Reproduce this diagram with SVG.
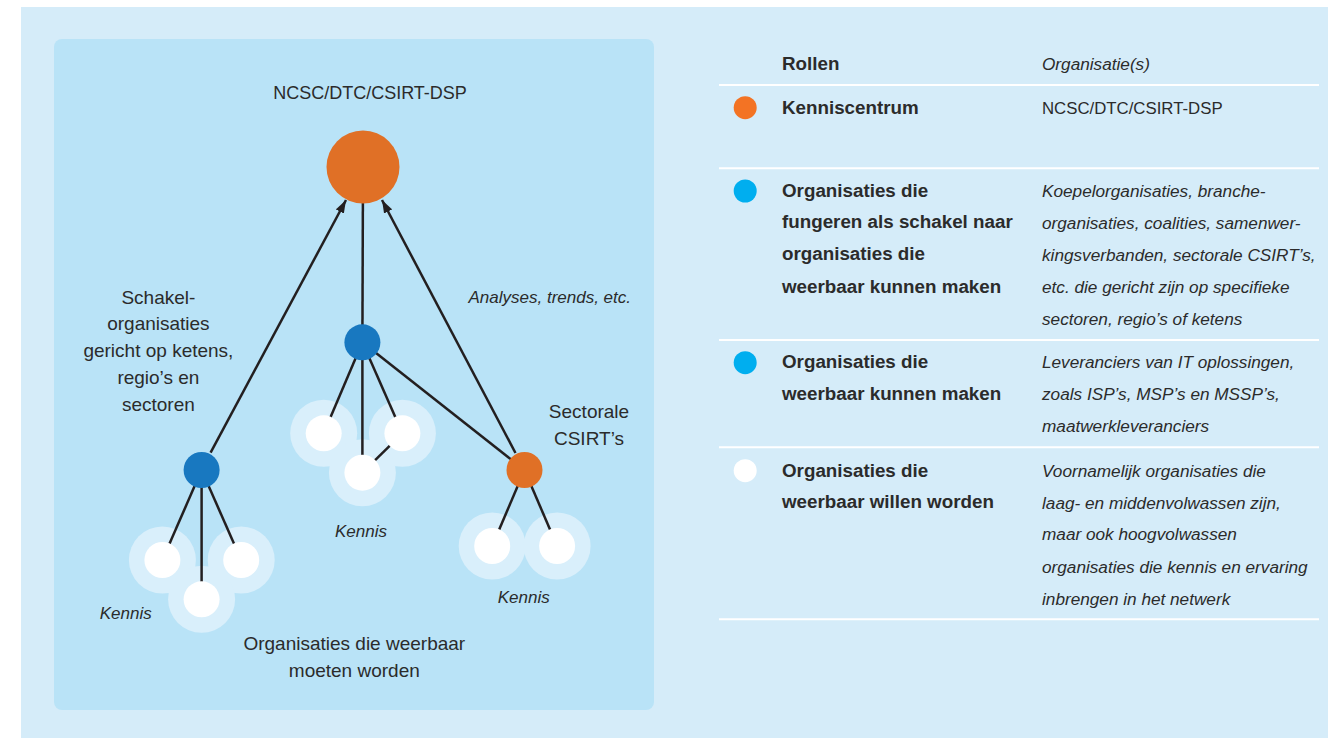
<svg xmlns="http://www.w3.org/2000/svg" width="1328" height="738" viewBox="0 0 1328 738">
<style>
text{font-family:"Liberation Sans",Arial,sans-serif;fill:#2b2b2b}
.lbl{font-size:19px;text-anchor:middle}
.it{font-style:italic;font-size:17px}
.b{font-weight:bold;font-size:18.8px}
.t{font-style:italic;font-size:17.2px}
.halo{fill:#d9effb}
.wn{fill:#ffffff}
.bn{fill:#1878c0}
.on{fill:#e07026}
.sep{stroke:#ffffff;stroke-width:2}
#connectors line{stroke:#231f20;stroke-width:2.5}
</style>
<defs>
<marker id="arr" markerUnits="userSpaceOnUse" markerWidth="14" markerHeight="10" refX="13" refY="5" orient="auto">
<path d="M0,0.5 L13,5 L0,9.5 Z" fill="#231f20"/>
</marker>
</defs>
<rect x="0" y="0" width="1328" height="738" fill="#ffffff"/>
<rect x="21" y="7" width="1307" height="731" fill="#d5ecf9"/>
<rect x="54" y="39" width="600" height="671" rx="8" fill="#b9e3f7"/>
<g id="halos">
<circle class="halo" cx="162.4" cy="560" r="33.5"/>
<circle class="halo" cx="241.2" cy="560" r="33.5"/>
<circle class="halo" cx="201.6" cy="599.3" r="33.5"/>
<circle class="halo" cx="323.7" cy="433.3" r="33.5"/>
<circle class="halo" cx="402.4" cy="433.3" r="33.5"/>
<circle class="halo" cx="362.4" cy="472.7" r="33.5"/>
<circle class="halo" cx="492.2" cy="546" r="33.5"/>
<circle class="halo" cx="557.1" cy="546" r="33.5"/>
</g>
<g id="connectors">
<line x1="363" y1="167" x2="362.4" y2="342.3"/>
<line x1="210.6" y1="452.7" x2="346" y2="200" marker-end="url(#arr)"/>
<line x1="515.5" y1="453" x2="382" y2="200" marker-end="url(#arr)"/>
<line x1="362.4" y1="342.3" x2="524.5" y2="470"/>
<line x1="362.4" y1="342.3" x2="323.7" y2="433.3"/>
<line x1="362.4" y1="342.3" x2="362.4" y2="472.7"/>
<line x1="362.4" y1="342.3" x2="402.4" y2="433.3"/>
<line x1="402.4" y1="433.3" x2="362.4" y2="472.7"/>
<line x1="201.6" y1="470" x2="162.4" y2="560"/>
<line x1="201.6" y1="470" x2="201.6" y2="599.3"/>
<line x1="201.6" y1="470" x2="241.2" y2="560"/>
<line x1="524.5" y1="470" x2="492.2" y2="546"/>
<line x1="524.5" y1="470" x2="557.1" y2="546"/>
</g>
<g id="node-kenniscentrum"><circle class="on" cx="363" cy="167" r="36.5"/><text class="lbl" x="370" y="99" style="font-size:18px">NCSC/DTC/CSIRT-DSP</text></g>
<g id="node-mid"><circle class="bn" cx="362.4" cy="342.3" r="18"/><text class="it" x="468.5" y="303.3">Analyses, trends, etc.</text></g>
<g id="node-left"><circle class="bn" cx="201.6" cy="470" r="18"/>
<text class="lbl" x="158.4"><tspan x="158.4" y="303.5">Schakel-</tspan><tspan x="158.4" y="330.3">organisaties</tspan><tspan x="158.4" y="357">gericht op ketens,</tspan><tspan x="158.4" y="383.8">regio’s en</tspan><tspan x="158.4" y="410.5">sectoren</tspan></text></g>
<g id="node-right"><circle class="on" cx="524.5" cy="470" r="18"/>
<text class="lbl" x="589"><tspan x="589" y="418.3">Sectorale</tspan><tspan x="589" y="445">CSIRT’s</tspan></text></g>
<g id="cluster-mid">
<circle class="wn" cx="323.7" cy="433.3" r="18"/><circle class="wn" cx="402.4" cy="433.3" r="18"/><circle class="wn" cx="362.4" cy="472.7" r="18"/>
<text class="it" x="361" y="536.7" text-anchor="middle">Kennis</text></g>
<g id="cluster-left">
<circle class="wn" cx="162.4" cy="560" r="18"/><circle class="wn" cx="241.2" cy="560" r="18"/><circle class="wn" cx="201.6" cy="599.3" r="18"/>
<text class="it" x="125.7" y="619.3" text-anchor="middle">Kennis</text></g>
<g id="cluster-right">
<circle class="wn" cx="492.2" cy="546" r="18"/><circle class="wn" cx="557.1" cy="546" r="18"/>
<text class="it" x="523.7" y="602.7" text-anchor="middle">Kennis</text></g>
<g id="bottom-label"><text class="lbl" x="354.3"><tspan x="354.3" y="650">Organisaties die weerbaar</tspan><tspan x="354.3" y="676.7">moeten worden</tspan></text></g>
<g id="legend">
<text class="b" x="782" y="70">Rollen</text>
<text class="t" x="1042" y="70">Organisatie(s)</text>
<line class="sep" x1="719" y1="85" x2="1319" y2="85"/>
<circle cx="745.2" cy="107.7" r="11.5" fill="#f37324"/>
<text class="b" x="782" y="114.3">Kenniscentrum</text>
<text x="1042" y="114.3" style="font-size:16.8px">NCSC/DTC/CSIRT-DSP</text>
<line class="sep" x1="719" y1="168.3" x2="1319" y2="168.3"/>
<circle cx="745.2" cy="191" r="11.5" fill="#00aeef"/>
<text class="b"><tspan x="782" y="196.7">Organisaties die</tspan><tspan x="782" y="228.3">fungeren als schakel naar</tspan><tspan x="782" y="260">organisaties die</tspan><tspan x="782" y="292.5">weerbaar kunnen maken</tspan></text>
<text class="t"><tspan x="1042" y="197">Koepelorganisaties, branche-</tspan><tspan x="1042" y="229">organisaties, coalities, samenwer-</tspan><tspan x="1042" y="261">kingsverbanden, sectorale CSIRT’s,</tspan><tspan x="1042" y="293">etc. die gericht zijn op specifieke</tspan><tspan x="1042" y="325">sectoren, regio’s of ketens</tspan></text>
<line class="sep" x1="719" y1="340" x2="1319" y2="340"/>
<circle cx="745.2" cy="362.7" r="11.5" fill="#00aeef"/>
<text class="b"><tspan x="782" y="368.3">Organisaties die</tspan><tspan x="782" y="400">weerbaar kunnen maken</tspan></text>
<text class="t"><tspan x="1042" y="368.3">Leveranciers van IT oplossingen,</tspan><tspan x="1042" y="400">zoals ISP’s, MSP’s en MSSP’s,</tspan><tspan x="1042" y="431.7">maatwerkleveranciers</tspan></text>
<line class="sep" x1="719" y1="447.3" x2="1319" y2="447.3"/>
<circle cx="745.2" cy="470.7" r="11.5" fill="#ffffff"/>
<text class="b"><tspan x="782" y="476.7">Organisaties die</tspan><tspan x="782" y="508.3">weerbaar willen worden</tspan></text>
<text class="t"><tspan x="1042" y="476.7">Voornamelijk organisaties die</tspan><tspan x="1042" y="508.5">laag- en middenvolwassen zijn,</tspan><tspan x="1042" y="540.3">maar ook hoogvolwassen</tspan><tspan x="1042" y="572.5">organisaties die kennis en ervaring</tspan><tspan x="1042" y="604.5">inbrengen in het netwerk</tspan></text>
<line class="sep" x1="719" y1="619.3" x2="1319" y2="619.3"/>
</g>
</svg>
